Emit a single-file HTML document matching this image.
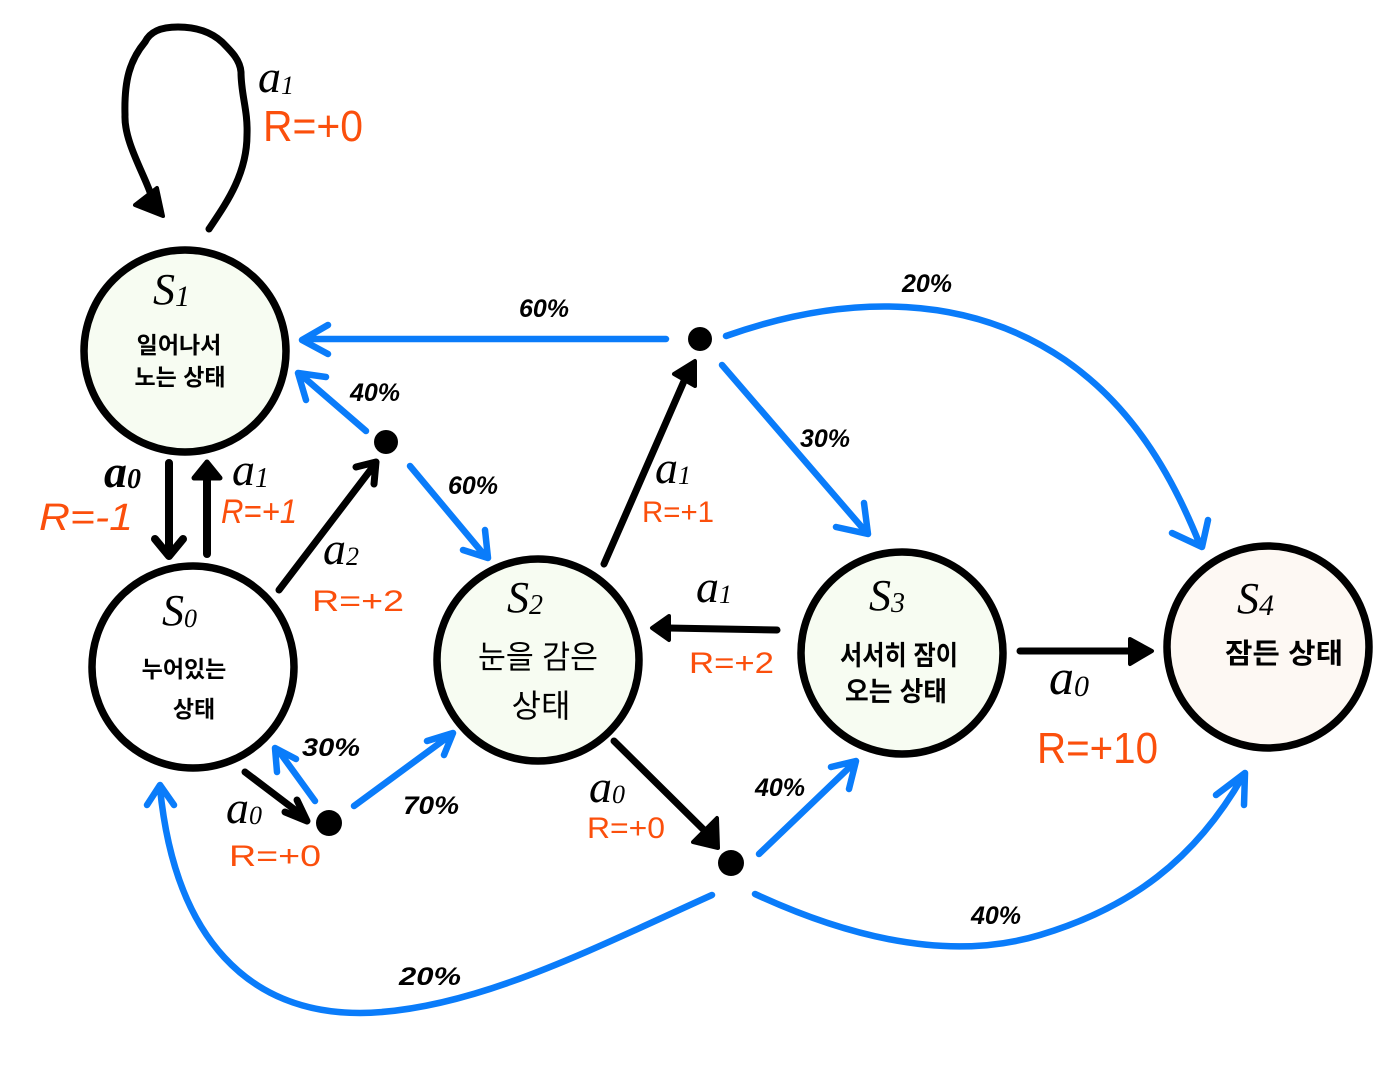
<!DOCTYPE html>
<html><head><meta charset="utf-8"><style>
html,body{margin:0;padding:0;background:#fff}
svg{display:block}
text{font-family:"Liberation Sans","Noto Sans CJK KR",sans-serif}
.b{fill:none;stroke:#0a7cfa;stroke-width:6.5;stroke-linecap:round;stroke-linejoin:round}
.k{fill:none;stroke:#000;stroke-width:7;stroke-linecap:round;stroke-linejoin:round}
.h{fill:#000;stroke:#000;stroke-width:4;stroke-linejoin:round}
.n{stroke:#000;stroke-width:7.5}
.a{font-family:"Liberation Serif","Noto Serif CJK KR",serif;font-style:italic;font-size:46px;fill:#000}
.s{font-family:"Liberation Serif",serif;font-style:italic;font-size:44px;fill:#000}
.r{font-size:30px;fill:#fb4f0c}
.p{font-size:25px;fill:#000;font-style:italic;font-weight:bold}
.t{font-size:23px;fill:#000;font-weight:bold;text-anchor:middle}
.m{font-weight:bold}
</style></head><body>
<svg width="1397" height="1074" viewBox="0 0 1397 1074" xmlns="http://www.w3.org/2000/svg">
<rect width="1397" height="1074" fill="#fff"/>

<circle class="n" cx="185" cy="351" r="101" fill="#f7fcf2"/>
<circle class="n" cx="193" cy="667" r="101" fill="#fff"/>
<circle class="n" cx="538" cy="660" r="101" fill="#f7fcf2"/>
<circle class="n" cx="902" cy="653" r="101" fill="#f7fcf2"/>
<circle class="n" cx="1268" cy="647" r="101" fill="#fdf8f3"/>

<circle cx="700" cy="339" r="12" fill="#000"/>
<circle cx="386" cy="442" r="12" fill="#000"/>
<circle cx="329" cy="823" r="13" fill="#000"/>
<circle cx="731" cy="863" r="13" fill="#000"/>

<!-- black -->
<path class="k" d="M209 229C225 205 247 175 247 135C248 110 241 95 241 72C240 60 232 52 222 42C210 31 195 27 178 27C160 27 150 32 145 42C130 60 124 80 125 115C124 140 142 170 150 192"/>
<path class="h" d="M135 205L157 188L163 216Z"/>
<path class="k" style="stroke-width:8" d="M169 463V555M155 539L169 556L183 539"/>
<path class="k" style="stroke-width:8" d="M207 554V480"/>
<path class="h" style="stroke-width:5" d="M207 462L194 478H220Z"/>
<path class="k" d="M279 590L372 468M356 467L376 462L374 484"/>
<path class="k" d="M245 772L303 816"/>
<path class="k" d="M285 812L307 821L297 800"/>
<path class="k" d="M604 564L688 372"/>
<path class="h" d="M674 374L695 361L695 386Z"/>
<path class="k" d="M777 630L668 628"/>
<path class="h" d="M669 616L652 628L669 640Z"/>
<path class="k" d="M1020 651H1135"/>
<path class="h" d="M1130 639L1152 651L1130 664Z"/>
<path class="k" d="M614 741L708 834"/>
<path class="h" d="M717 818L718 848L693 842Z"/>

<!-- blue -->
<path class="b" d="M666 339H304M328 325L302 340L328 354"/>
<path class="b" d="M726 336C850 292 970 295 1065 360C1130 405 1170 470 1200 545M1172 533L1202 547L1208 520"/>
<path class="b" d="M722 365L866 532M836 527L868 534L864 503"/>
<path class="b" d="M366 431L300 374M326 377L298 373L306 400"/>
<path class="b" d="M410 466L486 557M463 550L488 558L485 530"/>
<path class="b" d="M315 801L278 750M277 772L275 748L296 759"/>
<path class="b" d="M354 806L452 734M427 741L453 733L444 755"/>
<path class="b" d="M759 854L855 762M831 767L856 761L849 789"/>
<path class="b" d="M755 894C850 938 950 962 1040 935C1130 908 1195 860 1243 776M1216 795L1245 773L1244 805"/>
<path class="b" d="M712 895C590 950 470 1012 360 1013C250 1013 175 940 160 788M147 805L160 785L174 805"/>

<!-- state labels -->
<text class="s" x="153" y="304">S<tspan font-size="30" dy="2">1</tspan></text>
<text class="s" x="162" y="625">S<tspan font-size="26" dy="2">0</tspan></text>
<text class="s" x="507" y="612">S<tspan font-size="28" dy="2">2</tspan></text>
<text class="s" x="869" y="610">S<tspan font-size="28" dy="2">3</tspan></text>
<text class="s" x="1237" y="613">S<tspan font-size="30" dy="2">4</tspan></text>

<text class="t" x="179" y="353">일어나서</text>
<text class="t" x="180" y="385">노는 상태</text>
<text class="t" x="184" y="677">누어있는</text>
<text class="t" x="194" y="717">상태</text>
<text class="t" x="538" y="668" style="font-size:32px;font-weight:normal" textLength="120" lengthAdjust="spacingAndGlyphs">눈을 감은</text>
<text class="t" x="541" y="717" style="font-size:32px;font-weight:normal">상태</text>
<text class="t" x="899" y="665" style="font-size:27px" textLength="118" lengthAdjust="spacingAndGlyphs">서서히 잠이</text>
<text class="t" x="896" y="701" style="font-size:27px" textLength="102" lengthAdjust="spacingAndGlyphs">오는 상태</text>
<text class="t" x="1284" y="663" style="font-size:28px" textLength="118" lengthAdjust="spacingAndGlyphs">잠든 상태</text>

<!-- action labels -->
<text class="a" x="258" y="92">a<tspan font-size="26" dy="2">1</tspan></text>
<text class="a m" x="104" y="487">a<tspan font-size="28" dy="1">0</tspan></text>
<text class="a" x="232" y="485">a<tspan font-size="28" dy="2">1</tspan></text>
<text class="a" x="323" y="564">a<tspan font-size="26" dy="1">2</tspan></text>
<text class="a" x="226" y="823">a<tspan font-size="26" dy="1">0</tspan></text>
<text class="a" x="655" y="483">a<tspan font-size="26" dy="1">1</tspan></text>
<text class="a" x="696" y="602">a<tspan font-size="26" dy="1">1</tspan></text>
<text class="a" x="589" y="802">a<tspan font-size="26" dy="1">0</tspan></text>
<text class="a" x="1049" y="694" style="font-size:50px">a<tspan font-size="30" dy="2">0</tspan></text>

<!-- rewards -->
<text class="r" x="263" y="141" style="font-size:44px" textLength="100" lengthAdjust="spacingAndGlyphs">R=+0</text>
<text class="r" x="39" y="530" style="font-size:38px;font-style:italic" textLength="94" lengthAdjust="spacingAndGlyphs">R=-1</text>
<text class="r" x="221" y="523" style="font-size:34px;font-style:italic" textLength="76" lengthAdjust="spacingAndGlyphs">R=+1</text>
<text class="r" x="312" y="611" textLength="92" lengthAdjust="spacingAndGlyphs">R=+2</text>
<text class="r" x="229" y="866" textLength="92" lengthAdjust="spacingAndGlyphs">R=+0</text>
<text class="r" x="642" y="522" textLength="72" lengthAdjust="spacingAndGlyphs">R=+1</text>
<text class="r" x="689" y="673" textLength="85" lengthAdjust="spacingAndGlyphs">R=+2</text>
<text class="r" x="587" y="838" textLength="78" lengthAdjust="spacingAndGlyphs">R=+0</text>
<text class="r" x="1037" y="763" style="font-size:44px" textLength="121" lengthAdjust="spacingAndGlyphs">R=+10</text>

<!-- percents -->
<text class="p" x="519" y="317">60%</text>
<text class="p" x="902" y="292">20%</text>
<text class="p" x="350" y="401">40%</text>
<text class="p" x="448" y="494">60%</text>
<text class="p" x="800" y="447">30%</text>
<text class="p" x="302" y="756" textLength="58" lengthAdjust="spacingAndGlyphs">30%</text>
<text class="p" x="403" y="814" textLength="56" lengthAdjust="spacingAndGlyphs">70%</text>
<text class="p" x="755" y="796">40%</text>
<text class="p" x="971" y="924">40%</text>
<text class="p" x="399" y="985" textLength="62" lengthAdjust="spacingAndGlyphs">20%</text>
</svg>
</body></html>
